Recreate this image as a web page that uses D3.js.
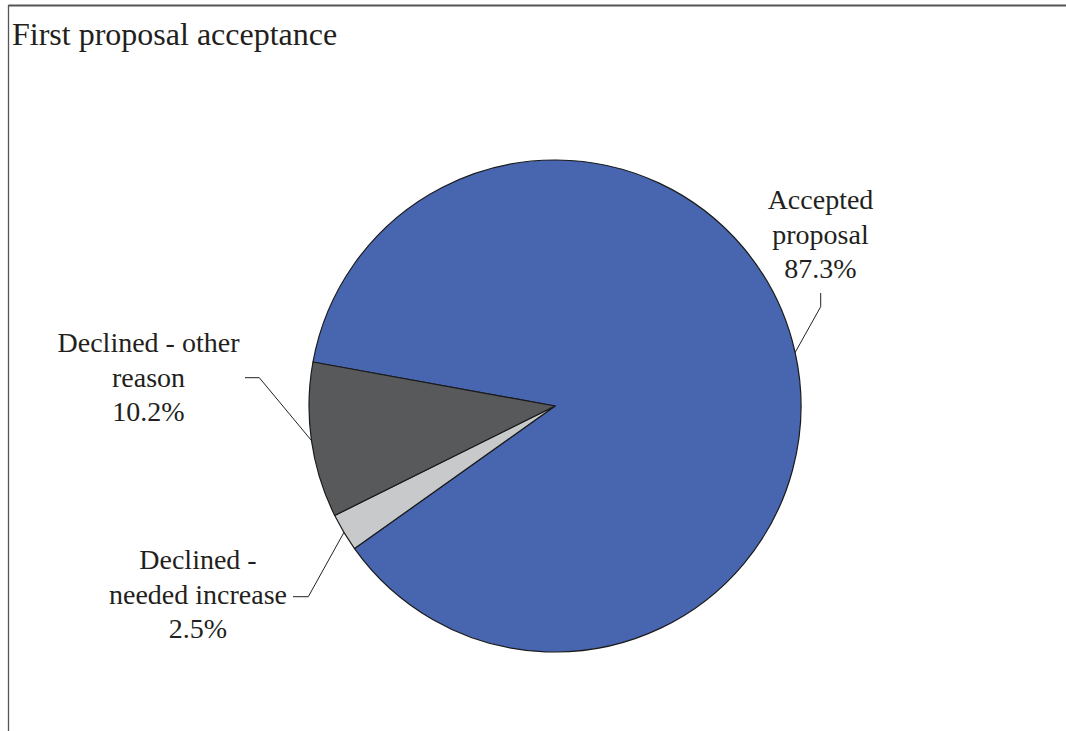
<!DOCTYPE html>
<html><head><meta charset="utf-8">
<script src="https://cdn.jsdelivr.net/npm/d3@7"></script>
<style>html,body{margin:0;padding:0;background:#fff;}svg{display:block;}</style>
</head><body>
<svg id="chart" width="1066" height="731"></svg>
<script>
const title = "First proposal acceptance";
const categories = ["Accepted proposal", "Declined - needed increase", "Declined - other reason"];
const values = [87.3, 2.5, 10.2];
const labelLines = [["Accepted", "proposal", "87.3%"], ["Declined -", "needed increase", "2.5%"], ["Declined - other", "reason", "10.2%"]];
const colors = ["#4866B0", "#C8C9CB", "#58595B"];

const svg = d3.select("#chart");
const font = "'Liberation Serif','Times New Roman',serif";
const txt = "#231F20";

// frame
svg.append("line").attr("x1", 8.5).attr("y1", 5.5).attr("x2", 1066).attr("y2", 5.5)
  .attr("stroke", "#555").attr("stroke-width", 2);
svg.append("line").attr("x1", 8.5).attr("y1", 5).attr("x2", 8.5).attr("y2", 731)
  .attr("stroke", "#555").attr("stroke-width", 1.3);

svg.append("text").attr("x", 12).attr("y", 45).attr("font-family", font)
  .attr("font-size", 32).attr("fill", txt).text(title);

const cx = 555, cy = 406, R = 246;
const start = -79.7 * Math.PI / 180;
const pie = d3.pie().sort(null).value(d => d).startAngle(start).endAngle(start + 2 * Math.PI);
const arcs = pie(values);
const arc = d3.arc().innerRadius(0).outerRadius(R);
const g = svg.append("g").attr("transform", `translate(${cx},${cy})`);
g.selectAll("path").data(arcs).join("path")
  .attr("d", arc).attr("fill", (d, i) => colors[i])
  .attr("stroke", "#1a1a1a").attr("stroke-width", 1.2).attr("stroke-linejoin", "round");

// label layout: center x, first baseline, elbow point, leader start
const layout = [
  {x: 820.5, y: 209, elbow: [820.7, 306.7], end: [820.7, 293]},
  {x: 198, y: 569, elbow: [308.3, 596.7], end: [293, 596.7]},
  {x: 148.5, y: 352, elbow: [259.3, 377.7], end: [245, 377.7]}
];
const lh = 34.5;
arcs.forEach((a, i) => {
  const L = layout[i];
  const mid = (a.startAngle + a.endAngle) / 2;
  const ex = cx + R * Math.sin(mid), ey = cy - R * Math.cos(mid);
  svg.append("polyline")
    .attr("points", `${ex},${ey} ${L.elbow[0]},${L.elbow[1]} ${L.end[0]},${L.end[1]}`)
    .attr("fill", "none").attr("stroke", "#222").attr("stroke-width", 1);
  const t = svg.append("text").attr("font-family", font).attr("font-size", 28)
    .attr("fill", txt).attr("text-anchor", "middle");
  labelLines[i].forEach((s, k) => {
    t.append("tspan").attr("x", L.x).attr("y", L.y + k * lh).text(s);
  });
});
</script>
</body></html>
